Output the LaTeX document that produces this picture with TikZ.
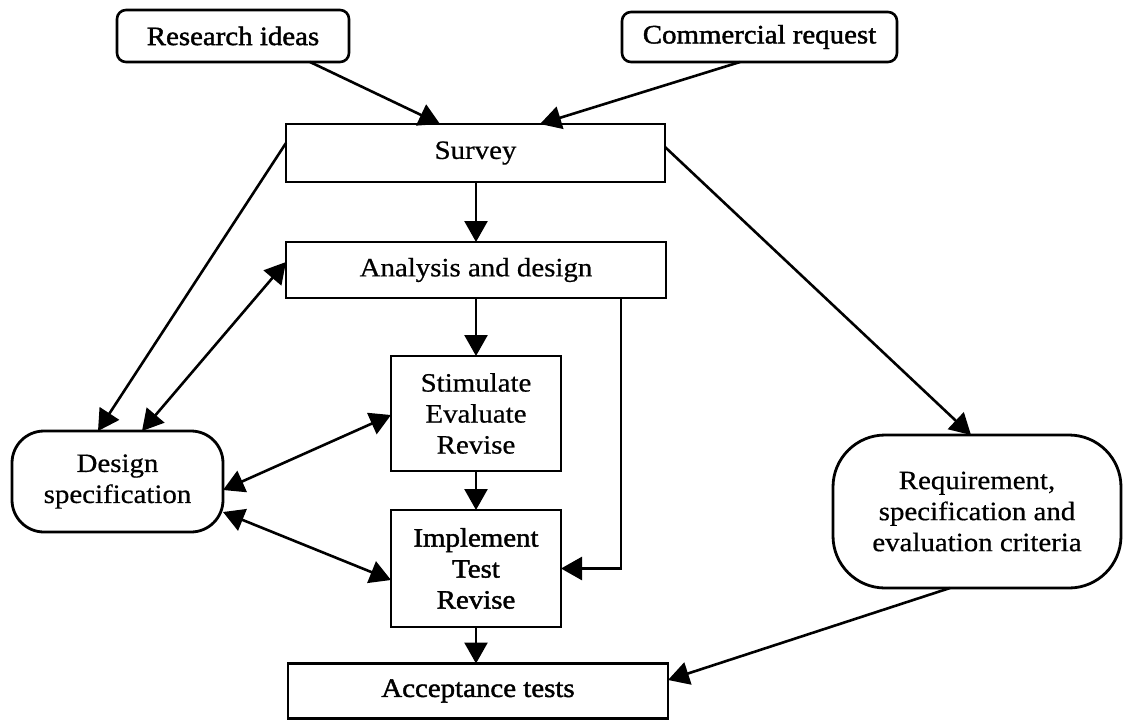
\documentclass[tikz,border=0pt]{standalone}
\usepackage{fontspec}
\setmainfont[FakeStretch=1.09,FakeBold=0.6]{Liberation Serif}
\newfontfamily\heavy[FakeStretch=1.09,FakeBold=1.6]{Liberation Serif}
\usetikzlibrary{arrows.meta,calc}
\begin{document}
\begin{tikzpicture}[x=1pt,y=-1pt,
  every node/.style={inner sep=0pt,outer sep=0pt,align=center,
    font=\fontsize{26.5}{31}\selectfont},
  box/.style={draw,line width=2.8pt,rectangle},
  srcbox/.style={draw,line width=2.6pt,rectangle,rounded corners=9pt},
  docbox/.style={draw,line width=2.8pt,rectangle},
  tip/.tip={Triangle[length=21pt,width=23pt]},
  link/.style={line width=2.6pt,-tip},
  both/.style={line width=2.6pt,tip-tip}]
\useasboundingbox (0,0) rectangle (1132,721);
\fill[white] (0,0) rectangle (1132,721);

% sources
\node[srcbox,minimum width=232pt,minimum height=52pt] (research) at (233,36) {\heavy Research ideas};
\node[srcbox,minimum width=275pt,minimum height=50pt] (commercial) at (759.5,37) {\heavy Commercial request};

% process column
\node[box,minimum width=379pt,minimum height=58pt] (survey) at (475.5,153) {Survey};
\node[box,minimum width=380pt,minimum height=56pt] (analysis) at (476,270) {Analysis and design};
\node[box,minimum width=170pt,minimum height=115pt] (stimulate) at (476,413.5) {Stimulate\\Evaluate\\Revise};
\node[box,minimum width=170pt,minimum height=117pt] (implement) at (476,568.5) {\heavy Implement\\\heavy Test\\\heavy Revise};
\node[box,minimum width=380pt,minimum height=55pt] (accept) at (478,691) {\heavy Acceptance tests};

% documents
\node[docbox,rounded corners=32pt,minimum width=211pt,minimum height=101pt] (design) at (117.5,481.5) {Design\\specification};
\node[docbox,rounded corners=52pt,minimum width=288pt,minimum height=153pt] (require) at (977,511.5) {Requirement,\\specification and\\evaluation criteria};

% connectors
\draw[link] ($(research.south)+(77,0)$) -- ($(survey.north)+(-35.5,0)$);
\draw[link] ($(commercial.south)+(-19.5,0)$) -- ($(survey.north)+(64.5,0)$);
\draw[link] ($(survey.west)+(0,-10)$) -- ($(design.north)+(-19.5,0)$);
\draw[both] ($(analysis.west)+(0,-8)$) -- ($(design.north)+(24.5,0)$);
\draw[both] ($(stimulate.west)+(0,1.5)$) -- ($(design.east)+(0,8.5)$);
\draw[both] ($(implement.west)+(0,11.5)$) -- ($(design.east)+(0,30.5)$);
\draw[link] (analysis.north |- survey.south) -- (analysis.north);
\draw[link] (analysis.south) -- (stimulate.north);
\draw[link] (stimulate.south) -- (implement.north);
\draw[link] (implement.south) -- (implement.south |- accept.north);
\draw[link] ($(analysis.south east)+(-45,0)$) |- (implement.east);
\draw[link] ($(survey.east)+(0,-6)$) -- ($(require.north)+(-6,0)$);
\draw[link] ($(require.south)+(-27,0)$) -- ($(accept.east)+(0,-11)$);
\end{tikzpicture}
\end{document}
